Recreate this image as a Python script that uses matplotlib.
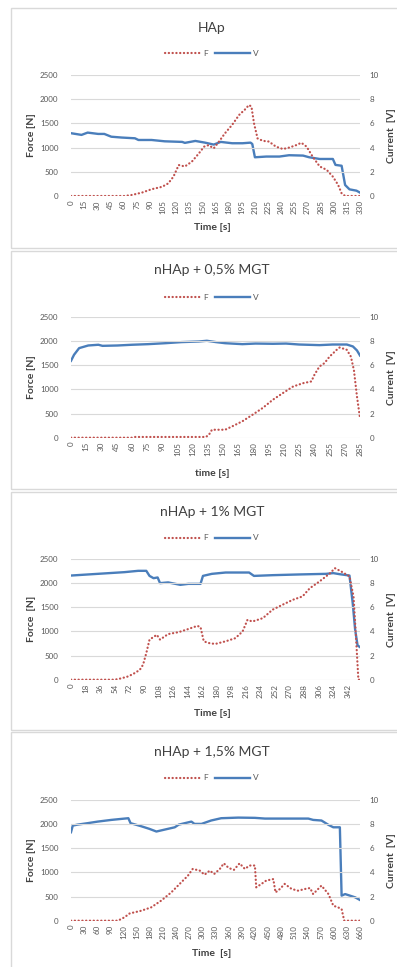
import matplotlib
matplotlib.use("Agg")
import matplotlib.pyplot as plt
from matplotlib.patches import Rectangle
from matplotlib.lines import Line2D

plt.rcParams['font.family'] = ['Lato', 'DejaVu Sans']

# ---------------- data ----------------
titles = ["HAp", "nHAp + 0,5% MGT", "nHAp + 1% MGT", "nHAp + 1,5% MGT"]
xlabels = ["Time [s]", "time [s]", "Time [s]", "Time  [s]"]
ylabels_left = ["Force [N]", "Force [N]", "Force  [N]", "Force [N]"]
ylabels_right = ["Current  [V]", "Current  [V]", "Current  [V]", "Current  [V]"]

# Panel 1: HAp
t1_F = [0, 30, 61, 69, 81, 92, 104, 111, 117, 123, 130, 138, 146, 152, 157, 163, 169, 176, 184, 192,
        200, 203, 206, 209, 213, 219, 226, 234, 242, 249, 257, 263, 269, 276, 284, 292, 299, 305,
        309, 313, 320, 330]
F1 = [0, 0, 0, 20, 70, 140, 190, 260, 400, 640, 610, 710, 880, 1020, 1050, 985, 1125, 1300, 1470, 1675,
      1810, 1880, 1850, 1500, 1190, 1140, 1125, 1020, 970, 1000, 1050, 1100, 1020, 810, 610, 540, 400, 230,
      55, 0, 0, 0]
t1_V = [0, 12, 19, 31, 38, 46, 58, 73, 77, 92, 107, 127, 130, 142, 153, 163, 171, 184, 196, 205, 207,
        210, 223, 238, 249, 265, 272, 284, 299, 302, 309, 313, 318, 326, 330]
V1 = [5.19, 5.05, 5.24, 5.13, 5.13, 4.90, 4.83, 4.77, 4.63, 4.63, 4.52, 4.47, 4.39, 4.55, 4.41, 4.25, 4.47,
      4.36, 4.36, 4.41, 4.30, 3.20, 3.26, 3.26, 3.37, 3.34, 3.20, 3.06, 3.06, 2.57, 2.50, 0.91, 0.55, 0.44, 0.28]

# Panel 2: nHAp + 0,5% MGT
t2_F = [0, 30, 60, 63, 100, 133, 136, 139, 152, 159, 169, 179, 189, 199, 209, 219, 229, 237, 240, 245,
        250, 255, 262, 265, 272, 276, 279, 282, 285]
F2 = [0, 0, 0, 15, 15, 15, 60, 165, 165, 235, 340, 475, 615, 785, 925, 1060, 1130, 1165, 1300, 1475,
      1545, 1680, 1820, 1870, 1820, 1680, 1400, 855, 405]
t2_V = [0, 3, 8, 17, 27, 31, 46, 60, 76, 93, 109, 126, 134, 143, 152, 169, 182, 199, 212, 225, 245,
        258, 272, 278, 282, 285]
V2 = [6.37, 6.87, 7.42, 7.64, 7.70, 7.61, 7.64, 7.70, 7.75, 7.83, 7.92, 7.97, 8.03, 7.92, 7.83, 7.75,
      7.80, 7.78, 7.80, 7.72, 7.67, 7.72, 7.72, 7.56, 7.23, 6.81]

# Panel 3: nHAp + 1% MGT
t3_F = [0, 30, 54, 62, 71, 79, 85, 89, 93, 97, 106, 110, 120, 133, 145, 156, 160, 164, 170, 178, 191,
        203, 212, 218, 224, 237, 249, 261, 274, 286, 295, 307, 320, 326, 334, 344, 349, 352, 355, 357]
F3 = [0, 0, 0, 28, 70, 140, 205, 310, 550, 830, 930, 830, 945, 985, 1050, 1115, 1090, 795, 760, 740, 795,
      860, 1000, 1240, 1205, 1275, 1450, 1550, 1655, 1725, 1895, 2035, 2205, 2310, 2240, 2140, 1725, 895, 0, 0]
t3_V = [0, 33, 66, 83, 93, 97, 102, 107, 110, 120, 129, 135, 145, 160, 163, 174, 191, 220, 226, 249,
        282, 315, 324, 332, 344, 348, 351, 354, 357]
V3 = [8.63, 8.77, 8.91, 9.02, 9.02, 8.60, 8.41, 8.47, 8.00, 8.06, 7.94, 7.86, 7.94, 7.94, 8.60, 8.77,
      8.88, 8.88, 8.60, 8.66, 8.72, 8.77, 8.83, 8.74, 8.63, 6.34, 4.14, 2.84, 2.70]

# Panel 4: nHAp + 1,5% MGT
t4_F = [0, 60, 107, 122, 134, 160, 183, 206, 229, 252, 267, 278, 294, 305, 317, 327, 340, 349, 360, 372,
        385, 397, 408, 420, 423, 435, 446, 462, 467, 477, 488, 504, 519, 534, 546, 553, 572, 588, 599,
        610, 618, 624, 640, 660]
F4 = [0, 0, 0, 70, 150, 205, 275, 415, 585, 795, 930, 1070, 1035, 950, 1035, 965, 1070, 1185, 1090, 1050,
      1185, 1070, 1140, 1140, 690, 760, 830, 860, 585, 655, 760, 655, 620, 655, 675, 550, 725, 550, 310,
      275, 240, 0, 0, 0]
t4_V = [0, 4, 15, 38, 61, 92, 114, 131, 136, 160, 179, 195, 214, 237, 246, 275, 282, 298, 320, 343, 382,
        420, 443, 488, 519, 542, 553, 572, 588, 599, 614, 618, 626, 649, 660]
V4 = [7.31, 7.86, 7.94, 8.06, 8.19, 8.33, 8.41, 8.47, 8.06, 7.81, 7.59, 7.37, 7.53, 7.72, 7.94, 8.19,
      8.00, 8.00, 8.28, 8.47, 8.52, 8.50, 8.44, 8.44, 8.44, 8.44, 8.33, 8.28, 7.92, 7.72, 7.72, 2.07,
      2.20, 1.93, 1.71]

xticks_list = [list(range(0, 331, 15)), list(range(0, 286, 15)),
               list(range(0, 343, 18)), list(range(0, 661, 30))]
xmax_list = [330, 285, 357, 660]

t_F = [t1_F, t2_F, t3_F, t4_F]
F_all = [F1, F2, F3, F4]
t_V = [t1_V, t2_V, t3_V, t4_V]
V_all = [V1, V2, V3, V4]

# ---------------- layout (pixels) ----------------
W, H = 397, 967
fig = plt.figure(figsize=(W / 100, H / 100), dpi=100)
fig.patch.set_facecolor('white')

box_tb = [(8, 247.5), (251, 488.5), (492, 729.5), (732, 975)]
axis_top = [75, 317, 559, 799.7]
axis_bot = [196, 437.7, 679.7, 920.7]
title_y = [28, 270, 512, 752]
legend_y = [53, 297, 538, 778]
xlabel_y = [228, 473, 713, 954]
ax_left, ax_right = 71, 360

RED = '#C0504D'
BLUE = '#4A7EBB'
GRID = '#D9D9D9'
TXT = '#595959'
DARK = '#404040'
DOT = (0, (0.1, 1.6))

def fy(y):
    return 1 - y / H

def fx(x):
    return x / W

for i in range(4):
    top, bot = box_tb[i]
    fig.patches.append(Rectangle((fx(11), fy(bot)), fx(420 - 11), (bot - top) / H,
                                 transform=fig.transFigure, fill=False,
                                 edgecolor=GRID, lw=1.0))
    ax = fig.add_axes([fx(ax_left), fy(axis_bot[i]), (ax_right - ax_left) / W,
                       (axis_bot[i] - axis_top[i]) / H])
    ax2 = ax.twinx()
    ax.set_zorder(ax2.get_zorder() + 1)
    ax.patch.set_visible(False)

    ax.plot(t_F[i], F_all[i], color=RED, lw=1.6, linestyle=DOT,
            dash_capstyle='round', zorder=3)
    ax2.plot(t_V[i], V_all[i], color=BLUE, lw=1.7, solid_joinstyle='round', zorder=2)

    ax.set_xlim(0, xmax_list[i])
    ax.set_ylim(0, 2500)
    ax2.set_ylim(0, 10)
    ax.set_yticks([0, 500, 1000, 1500, 2000, 2500])
    ax2.set_yticks([0, 2, 4, 6, 8, 10])
    ax.set_xticks(xticks_list[i])
    ax.set_xticklabels([str(v) for v in xticks_list[i]], rotation=90)
    ax.grid(axis='y', color=GRID, lw=0.8)
    ax.set_axisbelow(True)
    for a in (ax, ax2):
        for s in a.spines.values():
            s.set_visible(False)
        a.tick_params(length=0, labelsize=5.8, labelcolor=TXT)
    ax.tick_params(axis='y', pad=9)
    ax2.tick_params(axis='y', pad=7)
    ax.tick_params(axis='x', pad=3, labelsize=5.8)

    ymid = fy((axis_top[i] + axis_bot[i]) / 2)
    fig.text(fx(32), ymid, ylabels_left[i], rotation=90, ha='center', va='center',
             fontsize=7.5, color=DARK, fontweight='bold')
    fig.text(fx(391), ymid, ylabels_right[i], rotation=90, ha='center', va='center',
             fontsize=7.5, color=DARK, fontweight='bold')
    fig.text(fx(212), fy(xlabel_y[i]), xlabels[i], ha='center', va='center',
             fontsize=7.5, color=DARK, fontweight='bold')
    fig.text(fx(212), fy(title_y[i]), titles[i], ha='center', va='center',
             fontsize=10, color=DARK)

    h_F = Line2D([], [], color=RED, lw=1.6, linestyle=DOT, dash_capstyle='round')
    h_V = Line2D([], [], color=BLUE, lw=1.7)
    fig.legend([h_F, h_V], ['F', 'V'], loc='center', bbox_to_anchor=(fx(212), fy(legend_y[i])),
               ncol=2, frameon=False, fontsize=6, handlelength=4.2, handletextpad=0.4,
               columnspacing=0.8, labelcolor=TXT)

fig.savefig('out.png', dpi=100, facecolor='white')
